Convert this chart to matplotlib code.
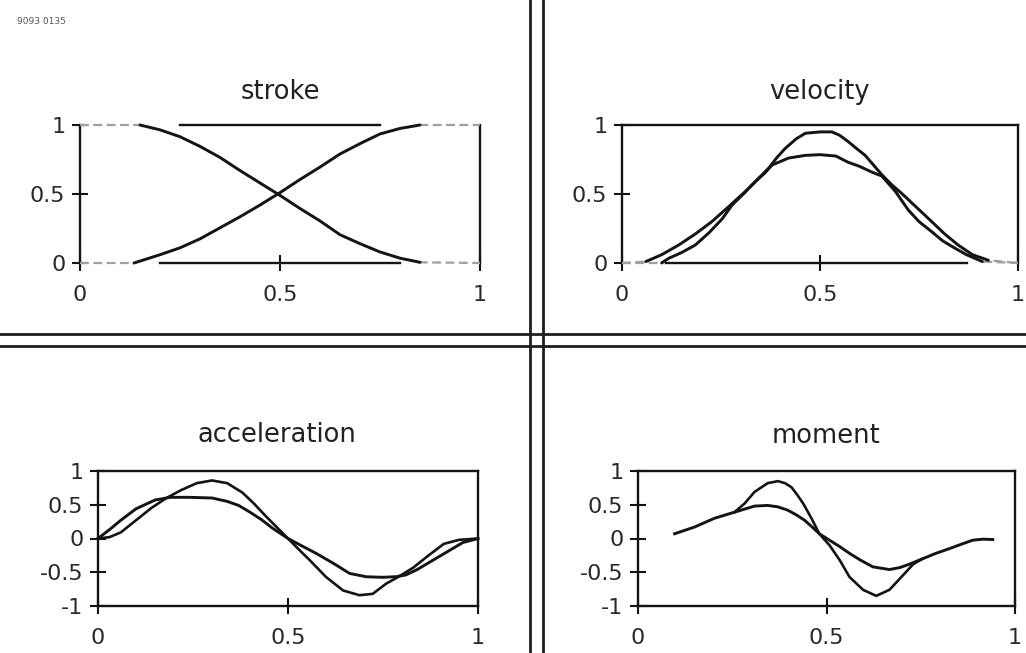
import matplotlib
matplotlib.use("Agg")
import matplotlib.pyplot as plt
from matplotlib.lines import Line2D

plt.rcParams['font.family'] = ['DejaVu Sans']

# ---------------- data ----------------
titles = ["stroke", "velocity", "acceleration", "moment"]
x_ticks = [0, 0.5, 1]
x_tick_labels = ["0", "0.5", "1"]
y_ticks_top = [0, 0.5, 1]
y_tick_labels_top = ["0", "0.5", "1"]
y_ticks_bottom = [-1, -0.5, 0, 0.5, 1]
y_tick_labels_bottom = ["-1", "-0.5", "0", "0.5", "1"]

# stroke
stroke_down_x = [0.0, 0.15, 0.20, 0.25, 0.30, 0.35, 0.40, 0.45, 0.50, 0.55, 0.60, 0.65, 0.70, 0.75, 0.80, 0.85, 1.0]
stroke_down_y = [1.0, 1.0, 0.965, 0.915, 0.845, 0.765, 0.67, 0.58, 0.49, 0.395, 0.305, 0.205, 0.14, 0.08, 0.035, 0.005, 0.0]
stroke_up_x = [0.0, 0.135, 0.20, 0.25, 0.30, 0.35, 0.40, 0.45, 0.50, 0.55, 0.60, 0.65, 0.70, 0.75, 0.80, 0.85, 1.0]
stroke_up_y = [0.0, 0.0, 0.06, 0.11, 0.175, 0.255, 0.335, 0.42, 0.51, 0.605, 0.695, 0.79, 0.865, 0.935, 0.975, 1.0, 1.0]

# velocity
vel_high_x = [0.0, 0.06, 0.10, 0.143, 0.185, 0.227, 0.27, 0.311, 0.34, 0.37, 0.39, 0.412, 0.44, 0.463,
              0.50, 0.53, 0.55, 0.571, 0.59, 0.614, 0.635, 0.656, 0.68, 0.706, 0.745, 0.782, 0.815,
              0.849, 0.885, 0.925, 1.0]
vel_high_y = [0.0, 0.01, 0.06, 0.13, 0.21, 0.30, 0.41, 0.517, 0.60, 0.686, 0.76, 0.83, 0.90, 0.94,
              0.95, 0.95, 0.925, 0.88, 0.835, 0.78, 0.71, 0.64, 0.57, 0.505, 0.40, 0.30, 0.21,
              0.13, 0.06, 0.02, 0.0]
vel_low_x = [0.0, 0.10, 0.118, 0.15, 0.185, 0.22, 0.253, 0.278, 0.31, 0.337, 0.36, 0.379, 0.42, 0.463,
             0.50, 0.54, 0.571, 0.60, 0.63, 0.656, 0.69, 0.723, 0.75, 0.782, 0.81, 0.841, 0.87,
             0.891, 0.91, 1.0]
vel_low_y = [0.0, 0.0, 0.034, 0.075, 0.13, 0.22, 0.32, 0.42, 0.51, 0.59, 0.65, 0.71, 0.76, 0.78,
             0.785, 0.775, 0.73, 0.70, 0.66, 0.63, 0.52, 0.384, 0.30, 0.227, 0.16, 0.107, 0.06,
             0.034, 0.01, 0.0]

# acceleration
acc_a_x = [0.0, 0.03, 0.06, 0.10, 0.15, 0.19, 0.24, 0.30, 0.34, 0.37, 0.40, 0.43, 0.46, 0.50, 0.54,
           0.574, 0.62, 0.662, 0.706, 0.75, 0.785, 0.81, 0.84, 0.87, 0.90, 0.93, 0.96, 1.0]
acc_a_y = [0.0, 0.13, 0.27, 0.44, 0.57, 0.61, 0.61, 0.60, 0.55, 0.49, 0.39, 0.28, 0.15, 0.0, -0.12,
           -0.22, -0.37, -0.517, -0.567, -0.575, -0.565, -0.54, -0.46, -0.36, -0.26, -0.16, -0.06, 0.0]
acc_b_x = [0.0, 0.03, 0.06, 0.10, 0.14, 0.18, 0.22, 0.26, 0.30, 0.34, 0.38, 0.41, 0.44, 0.47, 0.50,
           0.53, 0.557, 0.60, 0.645, 0.688, 0.723, 0.758, 0.79, 0.83, 0.87, 0.91, 0.95, 1.0]
acc_b_y = [0.0, 0.02, 0.09, 0.27, 0.45, 0.60, 0.72, 0.82, 0.86, 0.82, 0.68, 0.52, 0.34, 0.17, 0.0,
           -0.17, -0.32, -0.57, -0.77, -0.84, -0.82, -0.67, -0.57, -0.43, -0.25, -0.08, -0.02, 0.0]

# moment
mom_a_x = [0.097, 0.15, 0.203, 0.256, 0.309, 0.344, 0.37, 0.397, 0.42, 0.442, 0.462, 0.481, 0.508,
           0.535, 0.561, 0.59, 0.623, 0.667, 0.695, 0.72, 0.755, 0.79, 0.826, 0.86, 0.888, 0.915, 0.941]
mom_a_y = [0.07, 0.17, 0.30, 0.39, 0.48, 0.49, 0.47, 0.42, 0.35, 0.27, 0.17, 0.07, -0.025,
           -0.12, -0.22, -0.32, -0.42, -0.46, -0.43, -0.38, -0.30, -0.22, -0.15, -0.08, -0.025, -0.01, -0.015]
mom_b_x = [0.256, 0.283, 0.309, 0.344, 0.371, 0.39, 0.407, 0.422, 0.438, 0.46, 0.481, 0.508, 0.535,
           0.561, 0.597, 0.632, 0.667, 0.707, 0.73, 0.755]
mom_b_y = [0.39, 0.52, 0.69, 0.82, 0.85, 0.82, 0.76, 0.65, 0.52, 0.30, 0.07, -0.10, -0.32,
           -0.57, -0.76, -0.85, -0.76, -0.52, -0.38, -0.30]

# ---------------- figure ----------------
W, H = 1026, 653
fig = plt.figure(figsize=(W / 100, H / 100), dpi=100)
fig.patch.set_facecolor("white")


def px_axes(left, right, top, bottom):
    return fig.add_axes([left / W, 1 - bottom / H, (right - left) / W, (bottom - top) / H])


ax_s = px_axes(80, 480, 125, 263)
ax_v = px_axes(622, 1018, 125, 263)
ax_a = px_axes(98, 478, 471, 606)
ax_m = px_axes(638, 1015, 471, 606)

INK = "#141414"
GRAY = "#a0a0a0"


def style(ax, title, yticks, ylabels, ylim, pad, title_x=0.5):
    ax.set_xlim(0, 1)
    ax.set_ylim(*ylim)
    ax.set_xticks(x_ticks)
    ax.set_xticklabels(x_tick_labels)
    ax.set_yticks(yticks)
    ax.set_yticklabels(ylabels)
    ax.tick_params(direction="inout", length=11, width=1.5, color=INK,
                   labelsize=16, labelcolor="#2a2a2a")
    ax.tick_params(axis="x", pad=10)
    ax.tick_params(axis="y", pad=5)
    for sp in ax.spines.values():
        sp.set_linewidth(1.7)
        sp.set_color(INK)
    ax.set_title(title, fontsize=18.5, color="#222222", pad=pad, x=title_x)
    ax.set_facecolor("white")


def curve_with_flats(ax, x, y):
    ax.plot(x, y, color=GRAY, lw=1.6, ls=(0, (4, 2)), clip_on=False, zorder=3)
    ax.plot(x[1:-1], y[1:-1], color=INK, lw=2.1, clip_on=False, zorder=4,
            solid_capstyle="round", solid_joinstyle="round")


# stroke
style(ax_s, titles[0], y_ticks_top, y_tick_labels_top, (0, 1), 19)
ax_s.spines["top"].set_bounds(0.25, 0.75)
ax_s.spines["bottom"].set_bounds(0.2, 0.8)
curve_with_flats(ax_s, stroke_down_x, stroke_down_y)
curve_with_flats(ax_s, stroke_up_x, stroke_up_y)

# velocity
style(ax_v, titles[1], y_ticks_top, y_tick_labels_top, (0, 1), 19)
ax_v.spines["bottom"].set_bounds(0.11, 0.87)
curve_with_flats(ax_v, vel_high_x, vel_high_y)
curve_with_flats(ax_v, vel_low_x, vel_low_y)

# acceleration
style(ax_a, titles[2], y_ticks_bottom, y_tick_labels_bottom, (-1, 1), 21, title_x=0.47)
ax_a.plot(acc_b_x, acc_b_y, color=INK, lw=1.9, clip_on=False, zorder=3, solid_joinstyle="round")
ax_a.plot(acc_a_x, acc_a_y, color=INK, lw=2.1, clip_on=False, zorder=4, solid_joinstyle="round")

# moment
style(ax_m, titles[3], y_ticks_bottom, y_tick_labels_bottom, (-1, 1), 20)
ax_m.plot(mom_b_x, mom_b_y, color=INK, lw=1.9, clip_on=False, zorder=3, solid_joinstyle="round")
ax_m.plot(mom_a_x, mom_a_y, color=INK, lw=2.1, clip_on=False, zorder=4, solid_joinstyle="round")

# panel dividers (double rules)
for xp in (530, 543):
    fig.add_artist(Line2D([xp / W, xp / W], [0, 1], transform=fig.transFigure,
                          color="#1e1e1e", lw=2.0))
for yp in (334, 346):
    fig.add_artist(Line2D([0, 1], [1 - yp / H, 1 - yp / H], transform=fig.transFigure,
                          color="#1e1e1e", lw=2.0))

# tiny scan label
fig.text(17 / W, 1 - 21 / H, "9093 0135", fontsize=6.5, color="#555555", va="center")

fig.savefig("out.png", dpi=100, facecolor="white")
